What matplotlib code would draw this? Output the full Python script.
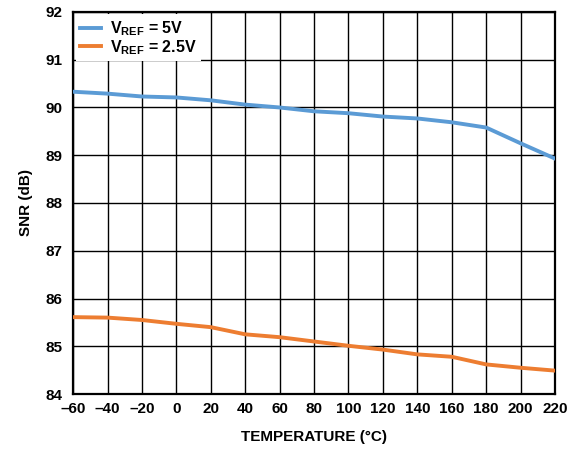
import matplotlib
matplotlib.use("Agg")
import matplotlib.pyplot as plt

plt.rcParams['font.family'] = ['Liberation Sans', 'DejaVu Sans']
plt.rcParams['font.weight'] = 'bold'
plt.rcParams['mathtext.fontset'] = 'custom'
plt.rcParams['mathtext.rm'] = 'Liberation Sans:bold'
plt.rcParams['mathtext.it'] = 'Liberation Sans:bold'
plt.rcParams['mathtext.bf'] = 'Liberation Sans:bold'

# temperature sweep, degC
temp = [-60, -40, -20, 0, 20, 40, 60, 80, 100, 120, 140, 160, 180, 200, 220]
# SNR (dB) for each reference voltage
snr_5v = [90.33, 90.29, 90.23, 90.21, 90.15, 90.06, 90.00, 89.92, 89.88,
          89.81, 89.77, 89.69, 89.58, 89.25, 88.93]
snr_2v5 = [85.61, 85.60, 85.55, 85.47, 85.40, 85.25, 85.19, 85.10, 85.01,
           84.93, 84.83, 84.78, 84.62, 84.55, 84.49]
xticks = list(range(-60, 221, 20))
xlabels = [str(t).replace('-', '\u2013') for t in xticks]
yticks = list(range(84, 93))

fig = plt.figure(figsize=(5.76, 4.5), dpi=100)
ax = fig.add_axes([0.127, 0.1244, 0.8365, 0.849])

ax.plot(temp, snr_5v, color='#5B9BD5', lw=2.8, solid_joinstyle='round',
        label=r'$\mathrm{V_{REF}}$ = 5V', zorder=3)
ax.plot(temp, snr_2v5, color='#ED7D31', lw=2.8, solid_joinstyle='round',
        label=r'$\mathrm{V_{REF}}$ = 2.5V', zorder=3)

ax.set_xlim(-60, 220)
ax.set_ylim(84, 92)
ax.set_xticks(xticks)
ax.set_xticklabels(xlabels)
ax.set_yticks(yticks)
ax.tick_params(length=0, labelsize=11)
ax.tick_params(axis='y', pad=8)
ax.tick_params(axis='x', pad=6)
ax.grid(True, color='black', lw=1.0)
ax.set_axisbelow(True)
for s in ax.spines.values():
    s.set_linewidth(1.6)

ax.set_xlabel('TEMPERATURE (°C)', fontsize=11, fontweight='bold', labelpad=10)
ax.set_ylabel('SNR (dB)', fontsize=11, fontweight='bold', labelpad=9)

leg = ax.legend(loc='upper left', frameon=True, fancybox=False, fontsize=11.5,
                handlelength=1.3, borderpad=0.3, labelspacing=0.0,
                borderaxespad=0.15, handletextpad=0.55)
leg.get_frame().set_edgecolor('none')
leg.get_frame().set_facecolor('white')
leg.get_frame().set_alpha(1.0)

fig.savefig('out.png', dpi=100)
